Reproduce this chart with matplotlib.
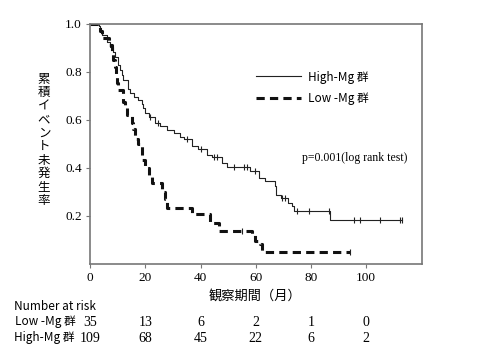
import numpy as np
import matplotlib
matplotlib.use('Agg')
import matplotlib.pyplot as plt
from matplotlib.transforms import blended_transform_factory

# Kaplan-Meier curves (time in months, survival)
high_t = [0, 3.1, 3.7, 4.3, 6.1, 7.3, 8.5, 9.1, 10.3, 10.9, 11.5, 12.1, 13.9, 14.5,
          16.0, 17.5, 18.7, 19.3, 19.9, 21.2, 23.7, 25.5, 27.9, 30.5, 32.7, 34.0,
          37.0, 39.0, 42.4, 44.0, 47.8, 49.6, 58.0, 61.0, 63.5, 67.1, 67.2, 69.0,
          71.8, 73.1, 73.7, 87.0, 113.0]
high_s = [1.0, 0.99, 0.975, 0.954, 0.926, 0.905, 0.885, 0.864, 0.83, 0.81, 0.788, 0.767,
          0.73, 0.71, 0.695, 0.683, 0.665, 0.649, 0.628, 0.61, 0.587, 0.575, 0.558,
          0.545, 0.53, 0.52, 0.489, 0.48, 0.454, 0.445, 0.42, 0.405, 0.385, 0.358,
          0.343, 0.322, 0.288, 0.275, 0.254, 0.239, 0.218, 0.183, 0.183]
high_cens = [21.9, 24.5, 35.1, 40.0, 44.8, 46.0, 52.0, 55.6, 56.8, 59.9, 69.5, 70.7,
             74.9, 79.1, 86.4, 95.4, 97.8, 105.0, 112.3, 112.9]

low_t = [0, 3.7, 4.3, 6.7, 7.9, 8.5, 9.1, 9.4, 9.7, 10.3, 12.1, 12.7, 13.3, 15.1,
         15.7, 16.3, 17.5, 18.7, 18.9, 20.0, 21.2, 22.5, 26.0, 27.2, 27.9, 37.0,
         43.6, 46.6, 58.7, 59.9, 61.7, 62.3, 94.2]
low_s = [1.0, 0.971, 0.943, 0.914, 0.886, 0.85, 0.82, 0.79, 0.754, 0.725, 0.676, 0.65,
         0.62, 0.587, 0.56, 0.52, 0.50, 0.46, 0.433, 0.40, 0.37, 0.337, 0.30, 0.27,
         0.233, 0.205, 0.17, 0.135, 0.12, 0.093, 0.08, 0.05, 0.05]
low_cens = [55.0, 94.2]

risk_times = [0, 20, 40, 60, 80, 100]
risk_low = [35, 13, 6, 2, 1, 0]
risk_high = [109, 68, 45, 22, 6, 2]

jp = ['Noto Sans CJK JP', 'DejaVu Sans']
serif = 'Liberation Serif'


def surv_at(t, s, x):
    i = np.searchsorted(t, x, side='right') - 1
    return np.array(s)[i]


fig = plt.figure(figsize=(4.8, 3.6), dpi=100)
ax = fig.add_axes([90 / 480, 1 - 263.5 / 360, 331.5 / 480, 239.5 / 360])

ax.plot(high_t, high_s, drawstyle='steps-post', color='#222222', lw=0.8,
        label='High-Mg 群')
ax.plot(low_t, low_s, drawstyle='steps-post', color='#111111', lw=2.2,
        dashes=(2.7, 1.7), label='Low -Mg 群')
ax.plot(high_cens, surv_at(high_t, high_s, high_cens), ls='none', marker='|',
        ms=5, mew=0.8, color='#222222')
ax.plot(low_cens, surv_at(low_t, low_s, low_cens), ls='none', marker='|',
        ms=5, mew=0.8, color='#222222')

ax.set_xlim(0, 120)
ax.set_ylim(0, 1.0)
ax.set_xticks(risk_times)
ax.set_yticks([0.2, 0.4, 0.6, 0.8, 1.0])
ax.set_yticklabels(['0.2', '0.4', '0.6', '0.8', '1.0'])
for sp in ax.spines.values():
    sp.set_color('#777777')
    sp.set_linewidth(1.2)
ax.tick_params(direction='out', length=3, width=0.8, color='#777777',
               labelsize=9.5, pad=3)
for lab in ax.get_xticklabels() + ax.get_yticklabels():
    lab.set_family(serif)

leg = ax.legend(loc='upper left', bbox_to_anchor=(0.47, 0.85), frameon=False,
                handlelength=3.8, handletextpad=0.6, labelspacing=0.75,
                prop={'family': jp, 'size': 8.5})

ax.text(0.64, 0.44, 'p=0.001(log rank test)', transform=ax.transAxes,
        family=serif, fontsize=8.5, ha='left', va='center')

fig.text(255 / 480, 1 - 296 / 360, '観察期間（月）', family=jp, fontsize=9.5,
         ha='center', va='center')
fig.text(44 / 480, 1 - 140 / 360, '\n'.join('累積イベント未発生率'), family=jp,
         fontsize=9, ha='center', va='center', linespacing=1.05)

fig.text(14 / 480, 1 - 307 / 360, 'Number at risk', family=jp, fontsize=8.5,
         ha='left', va='center')
fig.text(15 / 480, 1 - 322 / 360, 'Low -Mg 群', family=jp, fontsize=8.5,
         ha='left', va='center')
fig.text(14 / 480, 1 - 338 / 360, 'High-Mg 群', family=jp, fontsize=8.5,
         ha='left', va='center')
tr = blended_transform_factory(ax.transData, fig.transFigure)
for t, lo, hi in zip(risk_times, risk_low, risk_high):
    ax.text(t, 1 - 323 / 360, str(lo), transform=tr, family=serif, fontsize=10,
            ha='center', va='center', clip_on=False)
    ax.text(t, 1 - 338 / 360, str(hi), transform=tr, family=serif, fontsize=10,
            ha='center', va='center', clip_on=False)

fig.savefig('out.png', dpi=100)
